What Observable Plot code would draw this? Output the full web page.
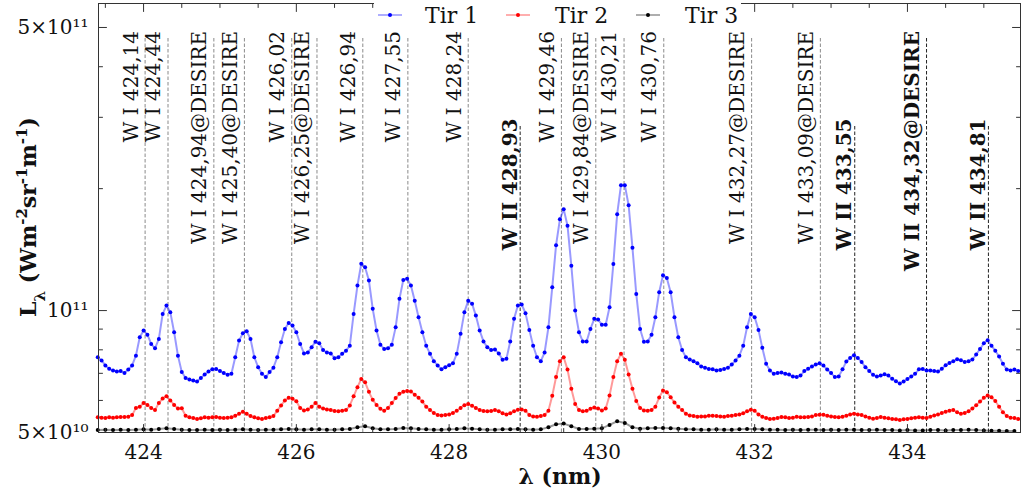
<!DOCTYPE html>
<html><head><meta charset="utf-8">
<script src="https://cdn.jsdelivr.net/npm/d3@7"></script>
<script src="https://cdn.jsdelivr.net/npm/@observablehq/plot@0.6"></script>
<style>html,body{margin:0;padding:0;background:#fff}svg{display:block}</style>
</head><body><div id="chart"></div>
<script>
// ---- data (radiance in units of 1e10 W m^-2 sr^-1 m^-1) ----
const seriesNames = ["Tir 1", "Tir 2", "Tir 3"];
const seriesColors = ["#0000ff", "#ff0000", "#000000"];
const fineStart = 423.40, fineStep = 0.05;     // sampling grid of Tir 1 / Tir 2
const coarseStart = 423.40, coarseStep = 0.10; // sampling grid of Tir 3
const tir1 = [
7.67,7.53,7.32,7.18,7.11,7.07,7.09,7.01,7.15,7.32,
7.74,8.59,8.93,8.72,8.27,8.07,8.51,9.81,10.29,9.91,
8.84,7.74,7.05,6.82,6.76,6.72,6.68,6.82,6.95,7.07,
7.16,7.17,7.09,7.01,6.94,6.98,7.67,8.43,8.79,8.89,
8.51,7.67,7.25,6.98,6.85,7.05,7.23,7.67,8.35,9.01,
9.32,9.18,8.84,8.27,7.84,7.88,8.12,8.38,8.30,7.99,
7.88,7.84,7.63,7.67,7.82,7.96,8.19,9.81,11.53,13.05,
12.8,11.86,10.1,8.93,8.24,8.04,8.07,8.24,9.09,10.69,
11.9,11.99,11.53,10.58,9.63,8.84,8.19,7.82,7.50,7.32,
7.16,7.25,7.33,7.41,7.82,8.76,9.91,10.58,10.4,9.72,
8.93,8.39,8.12,7.99,8.01,7.84,7.56,7.60,8.39,9.54,
10.29,10.35,9.85,8.96,8.19,7.67,7.50,7.88,9.09,11.41,
14.5,16.8,17.8,16.2,12.91,10.0,8.84,8.39,8.39,9.01,
9.54,9.50,9.23,9.23,10.19,13.04,17.3,20.4,20.4,18.2,
14.3,10.99,9.01,8.38,8.39,8.72,9.63,11.1,12.22,12.04,
11.10,9.63,8.59,7.99,7.67,7.57,7.50,7.41,7.28,7.23,
7.17,7.16,7.11,7.13,7.17,7.23,7.36,7.53,7.74,8.19,
9.09,9.81,9.63,8.96,8.09,7.39,7.11,6.98,7.01,7.03,
6.98,6.95,6.87,6.85,6.91,7.09,7.18,7.28,7.36,7.41,
7.32,7.15,7.01,6.85,6.87,7.16,7.49,7.64,7.76,7.64,
7.46,7.25,7.09,6.94,6.87,6.91,6.96,6.91,6.79,6.69,
6.61,6.68,6.78,6.87,6.98,7.16,7.17,7.11,7.11,7.09,
7.07,7.18,7.33,7.42,7.50,7.58,7.54,7.47,7.50,7.57,
7.79,8.04,8.30,8.45,8.19,7.96,7.70,7.39,7.15,7.11,
7.15,7.09];
const tir2 = [
5.45,5.44,5.43,5.45,5.44,5.45,5.46,5.46,5.47,5.52,
5.75,5.79,5.91,5.85,5.75,5.68,5.91,6.07,6.14,6.00,
5.85,5.73,5.74,5.50,5.45,5.43,5.40,5.42,5.45,5.44,
5.45,5.46,5.44,5.43,5.44,5.45,5.50,5.56,5.63,5.56,
5.49,5.45,5.42,5.40,5.43,5.45,5.49,5.66,5.83,6.00,
6.09,6.06,5.97,5.75,5.67,5.70,5.79,5.91,5.79,5.73,
5.70,5.68,5.65,5.64,5.66,5.68,5.83,6.14,6.47,6.78,
6.65,6.30,6.02,5.85,5.72,5.66,5.75,5.91,6.08,6.23,
6.30,6.33,6.31,6.20,6.09,5.96,5.79,5.68,5.59,5.52,
5.51,5.52,5.54,5.59,5.66,5.75,5.84,5.88,5.82,5.75,
5.68,5.65,5.64,5.65,5.68,5.64,5.58,5.54,5.58,5.64,
5.69,5.70,5.66,5.52,5.48,5.47,5.49,5.52,5.66,6.16,
6.85,7.50,7.67,7.15,6.41,5.88,5.68,5.64,5.66,5.72,
5.76,5.73,5.67,5.73,6.17,6.85,7.50,7.82,7.56,6.95,
6.41,5.98,5.75,5.67,5.66,5.68,5.79,6.10,6.35,6.29,
6.11,5.93,5.79,5.68,5.56,5.51,5.49,5.47,5.48,5.48,
5.50,5.50,5.49,5.48,5.47,5.49,5.50,5.52,5.54,5.58,
5.64,5.69,5.66,5.54,5.47,5.43,5.40,5.41,5.43,5.46,
5.45,5.43,5.44,5.47,5.45,5.45,5.46,5.48,5.52,5.53,
5.53,5.50,5.48,5.46,5.45,5.47,5.50,5.54,5.56,5.54,
5.52,5.48,5.44,5.41,5.43,5.46,5.44,5.42,5.40,5.39,
5.37,5.39,5.40,5.42,5.44,5.45,5.44,5.43,5.47,5.51,
5.54,5.59,5.63,5.66,5.68,5.61,5.56,5.59,5.64,5.73,
5.84,5.96,6.09,6.17,6.11,5.98,5.79,5.61,5.49,5.44,
5.43,5.40];
const tir3 = [
5.07,5.08,5.07,5.08,5.07,5.08,5.09,5.08,5.10,5.12,
5.10,5.08,5.07,5.07,5.08,5.07,5.08,5.07,5.08,5.09,
5.08,5.07,5.08,5.08,5.09,5.10,5.09,5.08,5.09,5.09,
5.08,5.08,5.09,5.10,5.15,5.18,5.12,5.09,5.09,5.10,
5.13,5.12,5.10,5.09,5.08,5.08,5.09,5.10,5.12,5.11,
5.09,5.08,5.08,5.09,5.09,5.10,5.09,5.08,5.09,5.15,
5.24,5.26,5.18,5.10,5.10,5.11,5.12,5.22,5.33,5.28,
5.15,5.11,5.12,5.13,5.13,5.12,5.11,5.09,5.09,5.08,
5.08,5.09,5.08,5.08,5.09,5.10,5.10,5.09,5.08,5.08,
5.07,5.08,5.07,5.08,5.08,5.07,5.08,5.07,5.08,5.08,
5.07,5.07,5.08,5.07,5.07,5.06,5.07,5.06,5.06,5.07,
5.07,5.06,5.07,5.07,5.08,5.07,5.06,5.05,5.05,5.04,
5.04];
const linePositions = [424.02,424.32,424.92,425.32,425.94,426.27,426.87,427.46,428.25,428.93,
  429.47,429.92,430.29,430.81,431.96,432.86,433.31,434.25,435.06];
const lineLabels = ["W I 424,14","W I 424,44","W I 424,94@DESIRE","W I 425,40@DESIRE","W I 426,02",
  "W I 426,25@DESIRE","W I 426,94","W I 427,55","W I 428,24","W II 428,93","W I 429,46",
  "W I 429,84@DESIRE","W I 430,21","W I 430,76","W I 432,27@DESIRE","W I 433,09@DESIRE",
  "W II 433,55","W II 434,32@DESIRE","W II 434,81"];
const xTickValues = [424, 426, 428, 430, 432, 434];
const yTickValues = [5e10, 1e11, 5e11];
const yTickLabels = ["5×10¹⁰", "10¹¹", "5×10¹¹"];

// ---- build tables ----
const scale = 1e10;
const series = [tir1, tir2, tir3].map((vals, s) => {
  const start = s < 2 ? fineStart : coarseStart, step = s < 2 ? fineStep : coarseStep;
  return vals.map((v, i) => ({series: seriesNames[s], wl: +(start + i * step).toFixed(3), L: v * scale}));
});
const lines = linePositions.map((p, i) => {
  const label = lineLabels[i];
  const ion2 = label.startsWith("W II");
  const desire = label.includes("DESIRE");
  return {pos: p, label, ion2, high: !ion2 || desire};
});
const xDomain = [423.41, 435.48];
const yDomain = [5e10, 5.73e11];
const labelTopHigh = 4.9e11, labelTopLow = 2.98e11;
const ruleTopHigh = 4.72e11, ruleTopLow = 2.86e11;

const xMinor = d3.range(423.5, 435.01, 0.5).filter(v => !xTickValues.includes(v));
const yMajor = [1e11, 5e11];
const yMinor = [6e10, 7e10, 8e10, 9e10, 2e11, 3e11, 4e11];
const tickColor = "#333";

const marks = [];
// vertical identification lines
marks.push(Plot.ruleX(lines.filter(d => !d.ion2), {x: "pos", y1: yDomain[0], y2: d => d.high ? ruleTopHigh : ruleTopLow,
  stroke: "#8a8a8a", strokeWidth: 1, strokeDasharray: "3.5,2"}));
marks.push(Plot.ruleX(lines.filter(d => d.ion2), {x: "pos", y1: yDomain[0], y2: d => d.high ? ruleTopHigh : ruleTopLow,
  stroke: "#222", strokeWidth: 1, strokeDasharray: "3.5,2"}));
// series
series.forEach((rows, s) => {
  marks.push(Plot.line(rows, {x: "wl", y: "L", stroke: seriesColors[s], strokeOpacity: 0.4, strokeWidth: 2}));
  marks.push(Plot.dot(rows, {x: "wl", y: "L", r: 2, fill: seriesColors[s], stroke: null}));
});
// labels
marks.push(Plot.text(lines.filter(d => !d.ion2), {x: "pos", y: d => d.high ? labelTopHigh : labelTopLow, text: "label",
  rotate: -90, textAnchor: "end", lineAnchor: "middle", dx: -14, fontSize: 20, fill: "#111"}));
marks.push(Plot.text(lines.filter(d => d.ion2 && !d.high), {x: "pos", y: labelTopLow, text: "label",
  rotate: -90, textAnchor: "end", lineAnchor: "middle", dx: -10, fontSize: 20, fontWeight: "bold", fill: "#111"}));
marks.push(Plot.text(lines.filter(d => d.ion2 && d.high), {x: "pos", y: labelTopHigh, text: "label",
  rotate: -90, textAnchor: "end", lineAnchor: "middle", dx: -14, fontSize: 20, fontWeight: "bold", fill: "#111"}));
// frame & inward ticks (plain line vectors)
marks.push(Plot.frame({stroke: tickColor, strokeWidth: 1}));
const tickShape = {draw(context, l) { context.moveTo(0, 0); context.lineTo(0, -l); }};
const tk = (data, o, len) => Plot.vector(data, {...o, length: len, anchor: "start", shape: tickShape, stroke: tickColor, strokeWidth: 1});
marks.push(tk(xTickValues, {x: d => d, y: yDomain[0], rotate: 0}, 8));
marks.push(tk(xMinor, {x: d => d, y: yDomain[0], rotate: 0}, 4));
marks.push(tk(xTickValues, {x: d => d, y: yDomain[1], rotate: 180}, 8));
marks.push(tk(xMinor, {x: d => d, y: yDomain[1], rotate: 180}, 4));
marks.push(tk(yMajor, {y: d => d, x: xDomain[0], rotate: 90}, 8));
marks.push(tk(yMinor, {y: d => d, x: xDomain[0], rotate: 90}, 4));
marks.push(tk(yMajor, {y: d => d, x: xDomain[1], rotate: 270}, 8));
marks.push(tk(yMinor, {y: d => d, x: xDomain[1], rotate: 270}, 4));
// tick labels
marks.push(Plot.axisX({ticks: xTickValues, tickSize: 0, tickPadding: 12, tickFormat: d => String(d), label: null, fontSize: 20}));
marks.push(Plot.axisY({ticks: yTickValues, tickSize: 0, tickPadding: 10, tickFormat: d => yTickLabels[yTickValues.indexOf(d)], label: null, fontSize: 20}));

const chart = Plot.plot({
  width: 1022, height: 493,
  marginLeft: 98, marginRight: 2, marginTop: 3, marginBottom: 61,
  style: {fontFamily: "DejaVu Serif", fontSize: "20px", background: "white", color: "#111", overflow: "visible"},
  x: {domain: xDomain},
  y: {type: "log", domain: yDomain},
  marks
});

// legend and axis titles
const svg = d3.select(chart);
const lg = svg.append("g").attr("font-family", "DejaVu Serif").attr("font-size", 22).attr("text-anchor", "start");
lg.append("rect").attr("x", 374).attr("y", 0).attr("width", 367).attr("height", 30).attr("fill", "white");
const legX = [390, 518, 648], legTextX = [425, 555, 685];
seriesNames.forEach((name, i) => {
  lg.append("line").attr("x1", legX[i] - 12).attr("x2", legX[i] + 12).attr("y1", 15).attr("y2", 15)
    .attr("stroke", seriesColors[i]).attr("stroke-opacity", 0.4).attr("stroke-width", 1.6);
  lg.append("circle").attr("cx", legX[i]).attr("cy", 15).attr("r", 2).attr("fill", seriesColors[i]);
  lg.append("text").attr("x", legTextX[i]).attr("y", 23).attr("text-anchor", "start").attr("fill", "#111").text(name);
});
svg.append("text").attr("x", 560).attr("y", 484).attr("text-anchor", "middle")
  .attr("font-family", "DejaVu Serif").attr("font-weight", "bold").attr("font-size", 22).attr("fill", "#111").text("λ (nm)");
const yl = svg.append("text").attr("transform", "translate(36,217) rotate(-90)").attr("text-anchor", "middle")
  .attr("font-family", "DejaVu Serif").attr("font-weight", "bold").attr("font-size", 22).attr("fill", "#111");
const parts = [["L", null], ["λ", "sub"], [" (Wm", null], ["-2", "super"], ["sr", null], ["-1", "super"], ["m", null], ["-1", "super"], [")", null]];
parts.forEach(([t, shift]) => {
  const ts = yl.append("tspan").text(t);
  if (shift) ts.attr("baseline-shift", shift).attr("font-size", 15);
});
document.getElementById("chart").appendChild(chart);
</script>
</body></html>
